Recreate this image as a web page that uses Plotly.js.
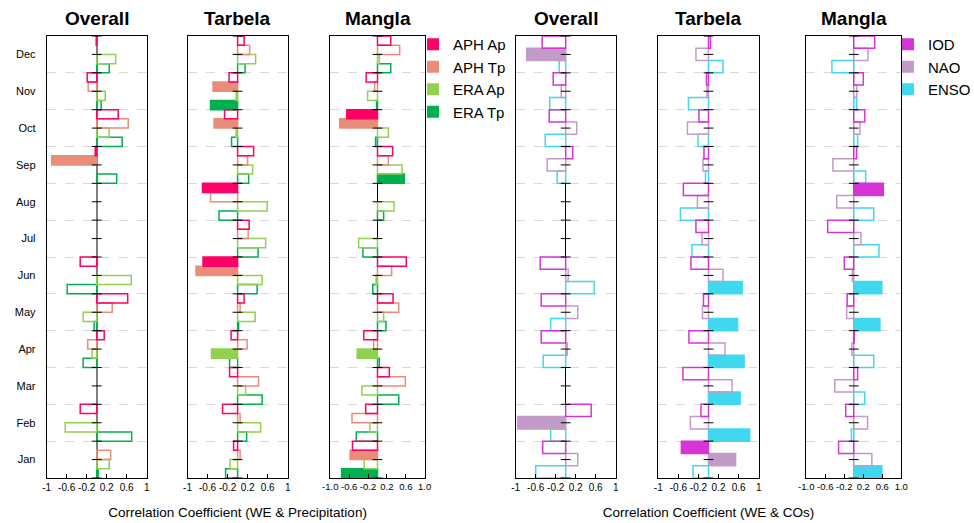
<!DOCTYPE html>
<html><head><meta charset="utf-8">
<script src="https://cdn.plot.ly/plotly-3.0.1.min.js"></script>
<style>html,body{margin:0;padding:0;background:#fff}#chart{width:974px;height:523px}</style>
</head><body><div id="chart"></div>
<script>
// Months, bottom (Jan) to top (Dec)
const months = ['Jan','Feb','Mar','Apr','May','Jun','Jul','Aug','Sep','Oct','Nov','Dec'];

// Panel titles
const panelTitles = ['Overall','Tarbela','Mangla','Overall','Tarbela','Mangla'];

// Precipitation series names
const precipSeries = ['APH Ap','APH Tp','ERA Ap','ERA Tp'];
// Climate oscillation series names
const coSeries = ['IOD','NAO','ENSO'];

// ---- Panel 1: Overall (WE & Precipitation) ----
const ovAPHAp = [null,-0.33,null,0.15,0.62,-0.33,null,null,-0.03,0.43,-0.19,-0.01];
const ovAPHTp = [0.28,null,null,-0.18,0.31,null,null,null,-0.90,0.63,-0.17,null];
const ovERAAp = [0.25,-0.63,null,-0.09,-0.27,0.69,null,null,null,0.25,0.17,0.38];
const ovERATp = [0.03,0.70,null,-0.27,-0.05,-0.59,null,null,0.40,0.51,0.09,0.25];
const ovSig = {'APH Ap':[], 'APH Tp':['Sep'], 'ERA Ap':[], 'ERA Tp':[]};

// ---- Panel 2: Tarbela (WE & Precipitation) ----
const tbAPHAp = [-0.08,-0.30,-0.16,-0.13,0.13,-0.69,0.23,-0.70,0.32,-0.26,-0.17,0.13];
const tbAPHTp = [0.05,0.05,0.42,0.19,0.05,-0.83,0.21,-0.54,0.20,-0.47,-0.49,0.24];
const tbERAAp = [-0.15,0.46,0.16,-0.52,0.35,0.49,0.56,0.59,0.30,-0.03,-0.03,0.36];
const tbERATp = [-0.24,0.18,0.49,-0.16,0.02,0.39,0.41,-0.37,0.22,-0.12,-0.54,0.15];
const tbSig = {'APH Ap':['Jun','Aug'], 'APH Tp':['Jun','Oct','Nov'], 'ERA Ap':['Apr'], 'ERA Tp':['Nov']};

// ---- Panel 3: Mangla (WE & Precipitation) ----
const mgAPHAp = [-0.53,-0.25,0.25,-0.29,0.33,0.61,null,null,0.32,-0.65,-0.24,0.28];
const mgAPHTp = [-0.58,-0.54,0.59,-0.08,0.45,0.30,null,null,0.23,-0.80,-0.06,0.47];
const mgERAAp = [-0.28,-0.16,-0.33,-0.43,0.13,-0.03,-0.40,0.35,0.52,0.23,-0.21,0.04];
const mgERATp = [-0.76,-0.45,0.45,0.04,0.18,-0.10,-0.31,0.13,0.57,-0.04,-0.02,0.28];
const mgSig = {'APH Ap':['Oct'], 'APH Tp':['Jan','Oct'], 'ERA Ap':['Apr'], 'ERA Tp':['Jan','Sep']};

// ---- Panel 4: Overall (WE & COs) ----
const ovIOD  = [-0.46,0.51,null,-0.49,-0.49,-0.51,null,null,0.14,-0.33,-0.25,-0.47];
const ovNAO  = [0.24,-0.96,null,0.03,0.24,0.05,null,null,-0.37,0.22,-0.09,-0.78];
const ovENSO = [-0.60,-0.30,null,-0.45,-0.30,0.57,null,null,-0.17,-0.41,-0.32,-0.13];
const ovCoSig = {'IOD':[], 'NAO':['Feb','Dec'], 'ENSO':[]};

// ---- Panel 5: Tarbela (WE & COs) ----
const tbIOD  = [-0.54,-0.15,-0.51,-0.39,-0.10,-0.35,-0.25,-0.50,-0.09,-0.19,-0.04,0.04];
const tbNAO  = [0.54,-0.36,0.47,0.33,-0.12,0.29,-0.13,-0.22,-0.11,-0.42,-0.03,-0.25];
const tbENSO = [-0.31,0.82,0.63,0.71,0.58,0.67,-0.33,-0.56,-0.06,-0.21,-0.40,0.29];
const tbCoSig = {'IOD':['Jan'], 'NAO':['Jan'], 'ENSO':['Feb','Mar','Apr','May','Jun']};

// ---- Panel 6: Mangla (WE & COs) ----
const mgIOD  = [-0.32,-0.17,0.08,0.01,-0.14,-0.20,-0.55,0.62,0.06,0.23,0.20,0.44];
const mgNAO  = [0.38,0.29,-0.40,-0.04,-0.15,-0.03,0.15,-0.36,-0.44,0.13,0.06,0.30];
const mgENSO = [0.59,-0.05,0.23,0.42,0.55,0.59,0.53,0.42,0.25,0.08,0.06,-0.46];
const mgCoSig = {'IOD':['Aug'], 'NAO':[], 'ENSO':['Jan','May','Jun']};

// Axis tick labels
const xTickVals = [-1,-0.6,-0.2,0.2,0.6,1];
const xTickTextA = ['-1','-0.6','-0.2','0.2','0.6','1'];
const xTickTextB = ['-1.0','-0.6','-0.2','0.2','0.6','1.0'];

// ---------- styling ----------
const colors = {
  'APH Ap':'#FF0066','APH Tp':'#E98D7B','ERA Ap':'#92D050','ERA Tp':'#00B050',
  'IOD':'#D535D5','NAO':'#C39BC9','ENSO':'#40D8EE'
};
const W = 974, H = 523;
const panelPx = [[46.7,146.7],[187.5,287.7],[330.3,424.7],[515.7,615.7],[658.3,758.7],[806.3,901.3]];
const plotTop = 36, plotBottom = 478;
const yDom = [(H-plotBottom)/H, (H-plotTop)/H];

const panels = [
  {series: precipSeries, data: {'APH Ap':ovAPHAp,'APH Tp':ovAPHTp,'ERA Ap':ovERAAp,'ERA Tp':ovERATp}, sig: ovSig, tt: xTickTextA, zc:'#808080', zw:2},
  {series: precipSeries, data: {'APH Ap':tbAPHAp,'APH Tp':tbAPHTp,'ERA Ap':tbERAAp,'ERA Tp':tbERATp}, sig: tbSig, tt: xTickTextA, zc:'#000', zw:1},
  {series: precipSeries, data: {'APH Ap':mgAPHAp,'APH Tp':mgAPHTp,'ERA Ap':mgERAAp,'ERA Tp':mgERATp}, sig: mgSig, tt: xTickTextB, zc:'#000', zw:1},
  {series: coSeries, data: {'IOD':ovIOD,'NAO':ovNAO,'ENSO':ovENSO}, sig: ovCoSig, tt: xTickTextA, zc:'#000', zw:1},
  {series: coSeries, data: {'IOD':tbIOD,'NAO':tbNAO,'ENSO':tbENSO}, sig: tbCoSig, tt: xTickTextA, zc:'#000', zw:1},
  {series: coSeries, data: {'IOD':mgIOD,'NAO':mgNAO,'ENSO':mgENSO}, sig: mgCoSig, tt: xTickTextB, zc:'#000', zw:1}
];

const monthIdx = months.map((m,i)=>i);
const halfSteps = [];
months.forEach((m,i)=>{ halfSteps.push(i-0.5); halfSteps.push(i); });
halfSteps.push(months.length-0.5);

const traces = [];
const layout = {
  width: W, height: H, margin:{l:0,r:0,t:0,b:0,autoexpand:false},
  paper_bgcolor:'#fff', plot_bgcolor:'#fff',
  barmode:'group', bargap:0, bargroupgap:0,
  font:{family:'Liberation Sans, Arial, sans-serif', size:11, color:'#000'},
  annotations: [], showlegend: true
};

panels.forEach((p, k) => {
  const n = k===0 ? '' : String(k+1);
  const xa = 'x'+n, ya = 'y'+n;
  // bars: add in reverse so that the first series sits at the top of each month group
  p.series.slice().reverse().forEach(s => {
    const vals = p.data[s];
    const sigSet = new Set(p.sig[s]);
    traces.push({
      type:'bar', orientation:'h', name:s, x: vals, y: monthIdx,
      xaxis: xa, yaxis: ya, showlegend:false, hoverinfo:'x+name',
      marker:{
        color: months.map(m => sigSet.has(m) ? colors[s] : 'rgba(255,255,255,0)'),
        line:{color: colors[s], width:1.5}
      }
    });
  });
  // cross ticks on the zero line
  traces.push({
    type:'scatter', mode:'markers', x: halfSteps.map(()=>0), y: halfSteps,
    xaxis: xa, yaxis: ya, showlegend:false, hoverinfo:'skip',
    marker:{symbol:'line-ew', size:7, line:{width:1, color:'#000'}}
  });
  const dom = [panelPx[k][0]/W, panelPx[k][1]/W];
  layout['xaxis'+n] = {
    domain: dom, anchor: ya, range:[-1,1], fixedrange:true,
    tickmode:'array', tickvals: xTickVals, ticktext: p.tt, tickangle:0,
    ticks:'inside', ticklen:4, tickcolor:'#000',
    showgrid:false, zeroline:true, zerolinecolor:p.zc, zerolinewidth:p.zw,
    showline:true, mirror:true, linecolor:'#000', linewidth:1,
    tickfont:{size: p.tt===xTickTextB ? 9.5 : 10}
  };
  layout['yaxis'+n] = {
    domain: yDom, anchor: xa, range:[-0.5, months.length-0.5], fixedrange:true,
    tickmode:'array', tickvals: monthIdx, ticktext: months,
    showticklabels: k===0, ticks:'', ticklabelstandoff: 8,
    showgrid:false, zeroline:false,
    minor:{tick0:0.5, dtick:1, showgrid:true, gridcolor:'#d9d9d9', griddash:'dash', gridwidth:1, ticks:''},
    showline:true, mirror:true, linecolor:'#000', linewidth:1,
    tickfont:{size:11}
  };
  layout.annotations.push({
    text:'<b>'+panelTitles[k]+'</b>', xref:'x'+n+' domain', yref:'paper',
    x:0.5, y:(H-18)/H, xanchor:'center', yanchor:'middle', showarrow:false,
    font:{size:19, color:'#000'}
  });
});

layout.xaxis2.title = {text:'Correlation Coefficient (WE & Precipitation)', font:{size:13.5}, standoff:15};
layout.xaxis5.title = {text:'Correlation Coefficient (WE & COs)', font:{size:13.5}, standoff:15};

// legend swatch traces on a hidden subplot
layout.xaxis7 = {domain:[0.99,1], anchor:'y7', visible:false};
layout.yaxis7 = {domain:[0.99,1], anchor:'x7', visible:false};
precipSeries.forEach(s => traces.push({type:'bar', orientation:'h', name:s, x:[null], y:[null], xaxis:'x7', yaxis:'y7', legend:'legend', marker:{color:colors[s]}, hoverinfo:'skip'}));
coSeries.forEach(s => traces.push({type:'bar', orientation:'h', name:s, x:[null], y:[null], xaxis:'x7', yaxis:'y7', legend:'legend2', marker:{color:colors[s]}, hoverinfo:'skip'}));

layout.legend = {x:413/W, y:(H-28)/H, xanchor:'left', yanchor:'top', bgcolor:'rgba(0,0,0,0)', font:{size:15}, itemwidth:30, traceorder:'normal'};
layout.legend2 = {x:888/W, y:(H-28)/H, xanchor:'left', yanchor:'top', bgcolor:'rgba(0,0,0,0)', font:{size:15}, itemwidth:30, traceorder:'normal'};

Plotly.newPlot('chart', traces, layout, {displayModeBar:false, staticPlot:true});
</script>
</body></html>
